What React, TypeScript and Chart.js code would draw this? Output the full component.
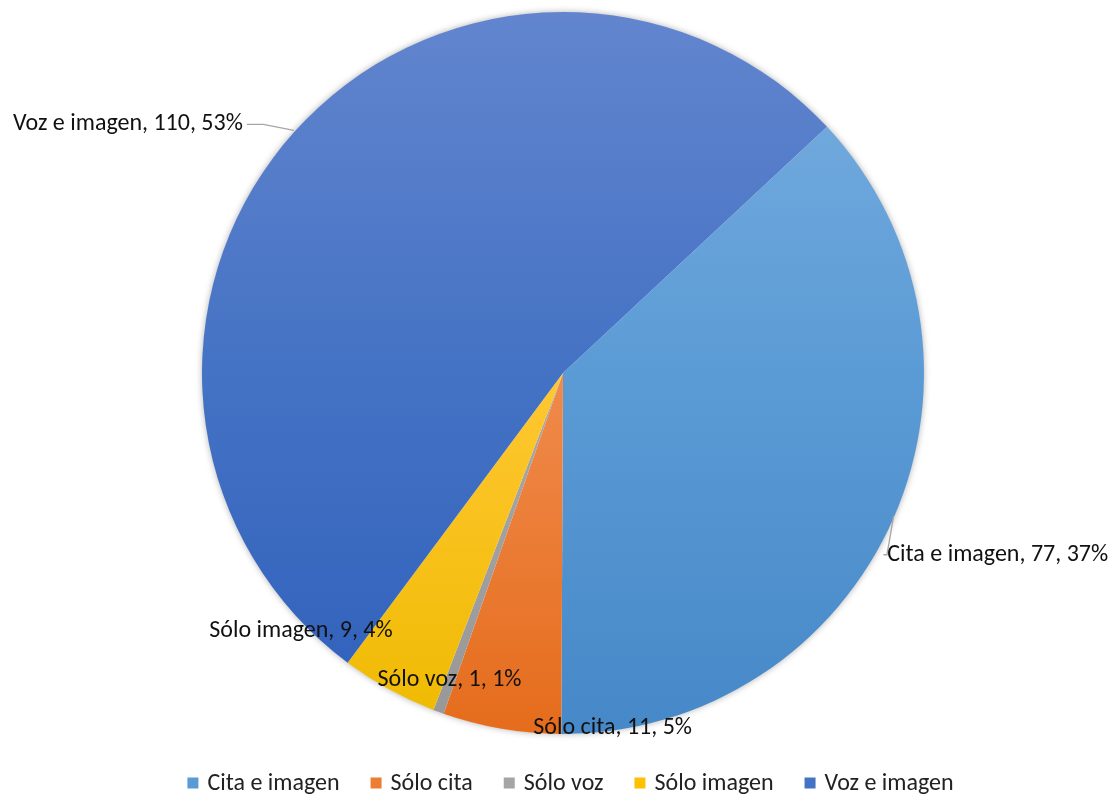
import React, { useEffect, useRef } from "react";
import { Chart, registerables } from "chart.js";

Chart.register(...registerables);

const categories = ["Cita e imagen", "Sólo cita", "Sólo voz", "Sólo imagen", "Voz e imagen"];
const values = [77, 11, 1, 9, 110];
const percentLabels = ["37%", "5%", "1%", "4%", "53%"];
// gradient stops (top, middle, bottom of pie)
const gradientStops = [
  ["#78AEE0", "#5B9BD5", "#4688C8"],
  ["#FCA472", "#F08A4B", "#E56C1C"],
  ["#BDBDBD", "#A8A8A8", "#979797"],
  ["#FFD86E", "#FFC732", "#EFBA00"],
  ["#6285CE", "#4472C4", "#2F60BB"],
];
const legendSwatch = ["#5B9BD5", "#ED7D31", "#A5A5A5", "#FFC000", "#4472C4"];
// label text-centre offsets from the slice's outer mid-point
const labelOffsets = [
  [104, 37],
  [111, -1],
  [11, -32],
  [-88, -58],
  [-166, -8],
];
const leaderLines = [true, false, false, false, true];

const FONT = "Calibri, Carlito, Lato, sans-serif";
const FONT_SIZE = 24;

const labelPlugin = {
  id: "excelLabels",
  beforeDatasetsDraw(chart: any) {
    const meta = chart.getDatasetMeta(0);
    const a = meta.data[0];
    if (!a) return;
    const ctx = chart.ctx;
    ctx.save();
    ctx.shadowColor = "rgba(0,0,0,0.35)";
    ctx.shadowBlur = 7;
    ctx.shadowOffsetX = 0;
    ctx.shadowOffsetY = 0;
    ctx.fillStyle = "#ffffff";
    ctx.beginPath();
    ctx.arc(a.x, a.y, a.outerRadius - 0.5, 0, Math.PI * 2);
    ctx.fill();
    ctx.restore();
  },
  afterDatasetsDraw(chart: any) {
    const meta = chart.getDatasetMeta(0);
    const ctx = chart.ctx;
    ctx.save();
    ctx.font = `${FONT_SIZE}px ${FONT}`;
    ctx.textBaseline = "middle";
    ctx.textAlign = "center";
    meta.data.forEach((arc: any, i: number) => {
      const mid = (arc.startAngle + arc.endAngle) / 2;
      const px = arc.x + Math.cos(mid) * arc.outerRadius;
      const py = arc.y + Math.sin(mid) * arc.outerRadius;
      const text = `${categories[i]}, ${values[i]}, ${percentLabels[i]}`;
      const tx = px + labelOffsets[i][0];
      const ty = py + labelOffsets[i][1];
      const w = ctx.measureText(text).width;
      if (leaderLines[i]) {
        ctx.strokeStyle = "#A6A6A6";
        ctx.lineWidth = 1.3;
        ctx.beginPath();
        if (Math.abs(labelOffsets[i][0]) > Math.abs(labelOffsets[i][1])) {
          const ex = labelOffsets[i][0] < 0 ? tx + w / 2 + 4 : tx - w / 2 - 4;
          ctx.moveTo(ex, ty);
          ctx.lineTo(ex + (px - ex) * 0.35, ty);
          ctx.lineTo(px, py - 2);
        } else {
          ctx.moveTo(px, py + 2);
          ctx.lineTo(px, ty - 15);
        }
        ctx.stroke();
      }
      ctx.fillStyle = "#111111";
      ctx.fillText(text, tx, ty);
    });
    ctx.restore();
  },
  afterDraw(chart: any) {
    const ctx = chart.ctx;
    ctx.save();
    ctx.font = `${FONT_SIZE}px ${FONT}`;
    ctx.textBaseline = "middle";
    ctx.textAlign = "left";
    const box = 11;
    const gapText = 9;
    const gapItem = 31;
    const widths = categories.map((c) => ctx.measureText(c).width);
    const total = widths.reduce((s, w) => s + box + gapText + w, 0) + gapItem * (categories.length - 1);
    const cx = chart.width / 2 + 13;
    let x = cx - total / 2;
    const y = chart.height - 13;
    categories.forEach((c, i) => {
      ctx.fillStyle = legendSwatch[i];
      ctx.fillRect(x, y - box / 2, box, box);
      x += box + gapText;
      ctx.fillStyle = "#222222";
      ctx.fillText(c, x, y + 1);
      x += widths[i] + gapItem;
    });
    ctx.restore();
  },
};

export default function App() {
  const ref = useRef<HTMLCanvasElement>(null);
  useEffect(() => {
    document.body.style.margin = "0";
    const canvas = ref.current!;
    const chart = new Chart(canvas, {
      type: "pie",
      data: {
        labels: categories,
        datasets: [
          {
            data: values,
            borderWidth: 0,
            backgroundColor: (ctx: any) => {
              const area = ctx.chart.chartArea;
              const stops = gradientStops[ctx.dataIndex] || gradientStops[0];
              if (!area) return stops[1];
              const g = ctx.chart.ctx.createLinearGradient(0, area.top, 0, area.bottom);
              g.addColorStop(0, stops[0]);
              g.addColorStop(0.5, stops[1]);
              g.addColorStop(1, stops[2]);
              return g;
            },
          },
        ],
      },
      options: {
        responsive: false,
        animation: false,
        rotation: 47,
        layout: { padding: { top: 12, bottom: 62, left: 202, right: 191 } },
        plugins: {
          legend: { display: false },
          tooltip: { enabled: false },
        },
      },
      plugins: [labelPlugin],
    } as any);
    return () => chart.destroy();
  }, []);
  return (
    <div style={{ position: "absolute", left: 0, top: 0, width: 1115, height: 796, background: "#fff" }}>
      <canvas ref={ref} width={1115} height={796} style={{ width: 1115, height: 796, display: "block" }} />
    </div>
  );
}
